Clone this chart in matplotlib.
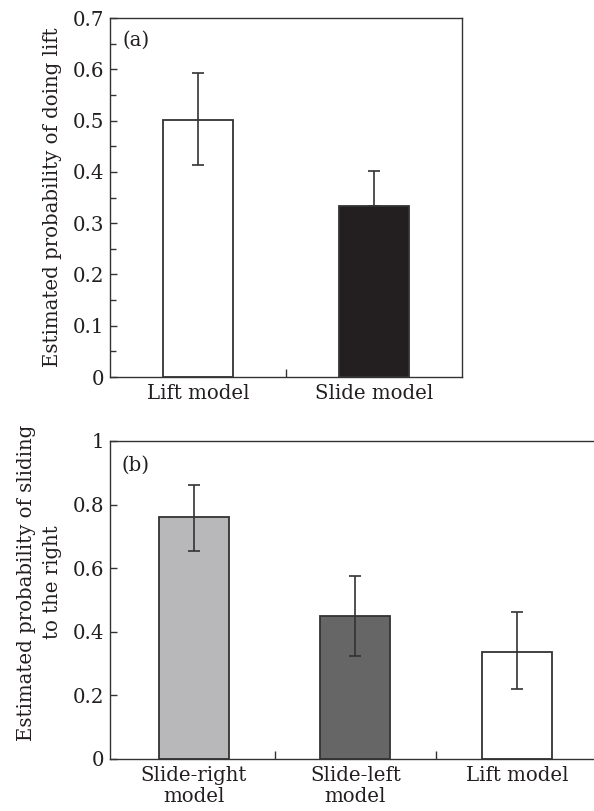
import matplotlib
matplotlib.use("Agg")
import matplotlib.pyplot as plt
from matplotlib.ticker import MultipleLocator, FixedLocator, FuncFormatter

# Panel (a) data
cats_a = ["Lift model", "Slide model"]
vals_a = [0.502, 0.333]
err_hi_a = [0.593, 0.402]
err_lo_a = [0.414, 0.333]
colors_a = ["#ffffff", "#231f20"]

# Panel (b) data
cats_b = ["Slide-right\nmodel", "Slide-left\nmodel", "Lift model"]
vals_b = [0.760, 0.451, 0.337]
err_hi_b = [0.862, 0.576, 0.463]
err_lo_b = [0.654, 0.324, 0.219]
colors_b = ["#b8b8bb", "#666667", "#ffffff"]

plt.rcParams["font.family"] = ["DejaVu Serif"]
FS = 14.2
EDGE = "#333333"
TXT = "#231f20"
W, H = 594, 811
fig = plt.figure(figsize=(W / 100, H / 100), dpi=100)


def fmt(v, p):
    if abs(v) < 1e-9:
        return "0"
    if abs(v - 1) < 1e-9:
        return "1"
    return f"{v:.1f}"


def style(ax):
    for s in ax.spines.values():
        s.set_color(EDGE)
        s.set_linewidth(1.0)
    ax.tick_params(axis="both", which="both", direction="in", color=EDGE,
                   width=1.0, labelsize=FS, labelcolor=TXT)
    ax.tick_params(axis="y", which="major", length=5, pad=4)
    ax.tick_params(axis="y", which="minor", length=4)
    ax.tick_params(axis="x", which="major", length=0, pad=5)
    ax.tick_params(axis="x", which="minor", length=6)


# ---- panel (a)
ax1 = fig.add_axes([110 / W, 1 - 377 / H, (462 - 110) / W, (377 - 18) / H])
xa = list(range(len(cats_a)))
ax1.bar(xa, vals_a, width=0.4, color=colors_a, edgecolor=EDGE, linewidth=1.3, zorder=2)
yerr_a = [[v - l for v, l in zip(vals_a, err_lo_a)], [h - v for v, h in zip(vals_a, err_hi_a)]]
ax1.errorbar(xa, vals_a, yerr=yerr_a, fmt="none", ecolor=EDGE, elinewidth=1.2,
             capsize=4, capthick=1.2, zorder=3)
ax1.set_xlim(-0.5, 1.5)
ax1.set_ylim(0, 0.7)
ax1.yaxis.set_major_locator(MultipleLocator(0.1))
ax1.yaxis.set_minor_locator(MultipleLocator(0.05))
ax1.yaxis.set_major_formatter(FuncFormatter(fmt))
ax1.xaxis.set_major_locator(FixedLocator(xa))
ax1.xaxis.set_minor_locator(FixedLocator([0.5]))
ax1.set_xticklabels(cats_a)
style(ax1)
ax1.set_ylabel("Estimated probability of doing lift", fontsize=FS, color=TXT, labelpad=8)
ax1.text(0.036, 0.965, "(a)", transform=ax1.transAxes, fontsize=FS, va="top", ha="left", color=TXT)

# ---- panel (b)
ax2 = fig.add_axes([110 / W, 1 - 759 / H, (600.7 - 110) / W, (759 - 441) / H])
xb = list(range(len(cats_b)))
ax2.bar(xb, vals_b, width=0.433, color=colors_b, edgecolor=EDGE, linewidth=1.3, zorder=2)
yerr_b = [[v - l for v, l in zip(vals_b, err_lo_b)], [h - v for v, h in zip(vals_b, err_hi_b)]]
ax2.errorbar(xb, vals_b, yerr=yerr_b, fmt="none", ecolor=EDGE, elinewidth=1.2,
             capsize=4, capthick=1.2, zorder=3)
ax2.set_xlim(-0.518, 2.518)
ax2.set_ylim(0, 1)
ax2.yaxis.set_major_locator(MultipleLocator(0.2))
ax2.yaxis.set_major_formatter(FuncFormatter(fmt))
ax2.xaxis.set_major_locator(FixedLocator(xb))
ax2.xaxis.set_minor_locator(FixedLocator([0.5, 1.5]))
ax2.set_xticklabels(cats_b, linespacing=1.15)
style(ax2)
ax2.set_ylabel("Estimated probability of sliding\nto the right", fontsize=FS,
               color=TXT, labelpad=8, linespacing=1.45)
ax2.yaxis.label.set_y(0.555)
ax2.text(0.024, 0.955, "(b)", transform=ax2.transAxes, fontsize=FS, va="top", ha="left", color=TXT)

fig.savefig("out.png", dpi=100)
